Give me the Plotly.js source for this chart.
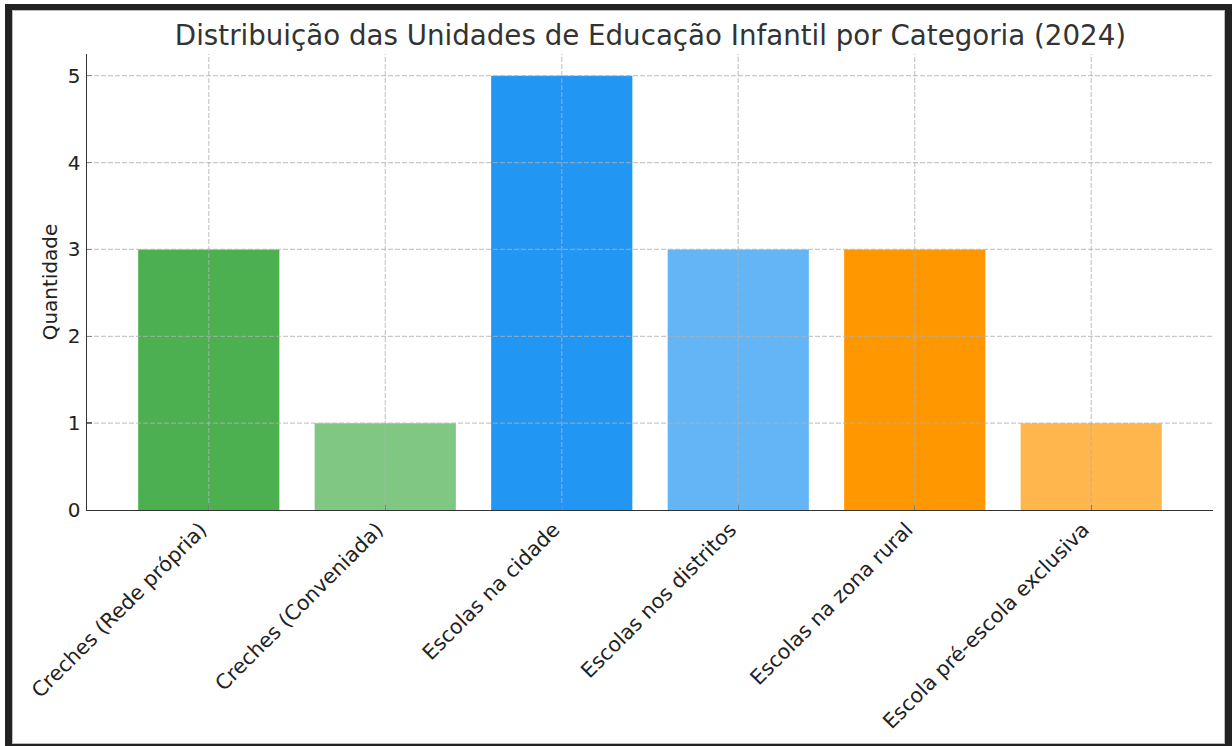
<!DOCTYPE html>
<html>
<head>
<meta charset="utf-8">
<script src="https://cdn.plot.ly/plotly-3.0.1.min.js"></script>
<style>
  html, body { margin: 0; padding: 0; background: #fff; overflow: hidden; }
  #wrap { position: relative; width: 1232px; height: 746px; overflow: hidden; }
  #chart { position: absolute; left: 0; top: 0; width: 1232px; height: 746px; }
  #frame { position: absolute; left: 5px; top: 4px; width: 1227px; height: 747px; box-sizing: border-box;
           border-style: solid; border-color: #222; border-width: 6px 7px 7px 7px; pointer-events: none;
           box-shadow: inset 0 0 0 1px #bbb; }
</style>
</head>
<body>
<div id="wrap">
  <div id="chart"></div>
  <div id="frame"></div>
</div>
<script>
const categories = ['Creches (Rede própria)', 'Creches (Conveniada)', 'Escolas na cidade', 'Escolas nos distritos', 'Escolas na zona rural', 'Escola pré-escola exclusiva'];
const values = [3, 1, 5, 3, 3, 1];
const barColors = ['#4CAF50', '#81C784', '#2196F3', '#64B5F6', '#FF9800', '#FFB74D'];
const yTicks = [0, 1, 2, 3, 4, 5];
const titleText = 'Distribuição das Unidades de Educação Infantil por Categoria (2024)';
const yTitle = 'Quantidade';

const gridColor = 'rgba(176,176,176,0.7)';
const shapes = [];
categories.forEach((c, i) => {
  shapes.push({type: 'line', xref: 'x', yref: 'paper', x0: i, x1: i, y0: 0, y1: 1, layer: 'above',
               line: {color: gridColor, width: 1.2, dash: '5px,2px'}});
});
yTicks.filter(v => v > 0).forEach(v => {
  shapes.push({type: 'line', xref: 'paper', yref: 'y', x0: 0, x1: 1, y0: v, y1: v, layer: 'above',
               line: {color: gridColor, width: 1.2, dash: '5px,2px'}});
});

const trace = {
  type: 'bar',
  x: categories.map((c, i) => i),
  y: values,
  width: 0.8,
  marker: {color: barColors, line: {width: 0}},
  hoverinfo: 'skip'
};

const layout = {
  width: 1232, height: 746,
  margin: {l: 87, r: 19, t: 54, b: 236},
  paper_bgcolor: '#fff', plot_bgcolor: '#fff',
  font: {family: 'DejaVu Sans', color: '#222', size: 20},
  showlegend: false,
  title: {text: titleText, font: {size: 27.7, color: '#333'}, x: 0.528, xanchor: 'center', xref: 'container',
          y: 1 - 35/746, yanchor: 'middle', yref: 'container'},
  xaxis: {
    range: [-0.69, 5.69],
    tickmode: 'array', tickvals: categories.map((c, i) => i), ticktext: categories,
    tickangle: -45, ticks: 'inside', ticklen: 5, tickwidth: 1.3, tickcolor: '#333',
    showline: true, linecolor: '#333', linewidth: 1.4, showgrid: false, zeroline: false,
    layer: 'above traces', tickfont: {size: 20.6, color: '#222'}, ticklabelstandoff: -2, ticklabelshift: -8
  },
  yaxis: {
    range: [0, 5.25],
    tickmode: 'array', tickvals: yTicks,
    ticks: 'inside', ticklen: 5, tickwidth: 1.3, tickcolor: '#333',
    showline: true, linecolor: '#333', linewidth: 1.4, showgrid: false, zeroline: false,
    layer: 'above traces', tickfont: {size: 20, color: '#222'}, ticklabelstandoff: 1,
    title: {text: yTitle, font: {size: 20, color: '#222'}, standoff: 5}
  },
  shapes: shapes
};

Plotly.newPlot('chart', [trace], layout, {displayModeBar: false, staticPlot: true});
</script>
</body>
</html>
